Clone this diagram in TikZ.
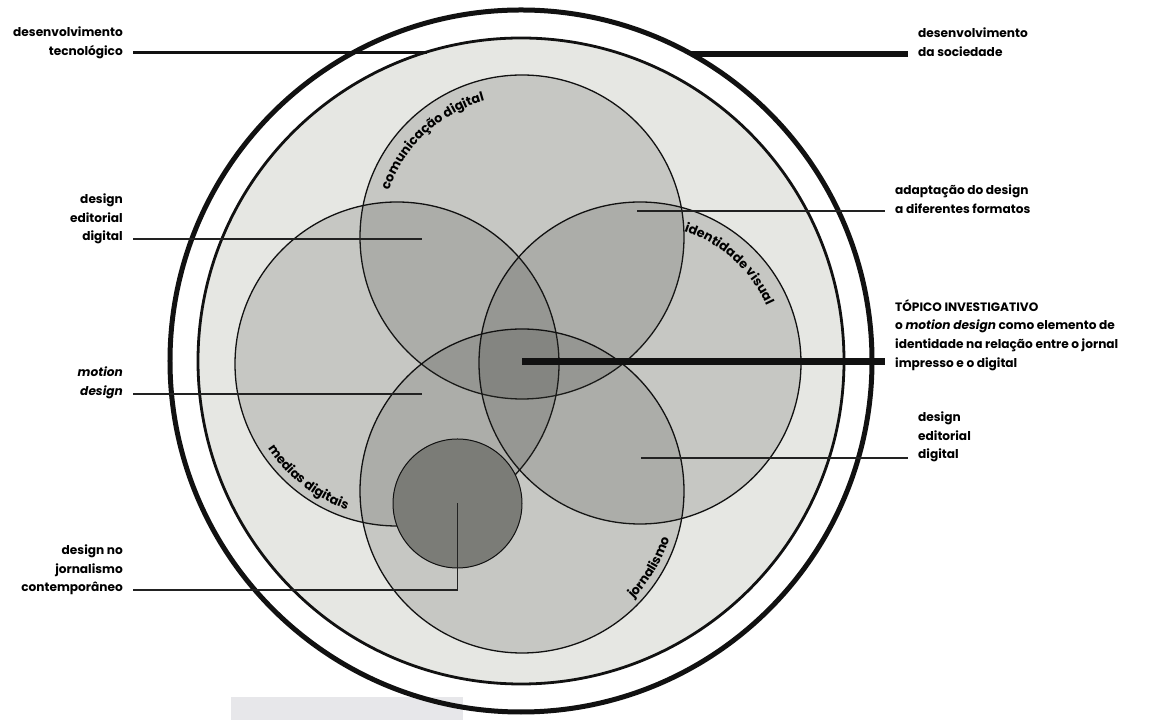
\documentclass[tikz,border=0pt]{standalone}
\usepackage{fontspec}
\setmainfont{Poppins}
\usetikzlibrary{calc,decorations.text}
\definecolor{Ink}{HTML}{111111}
\definecolor{Wire}{HTML}{222222}
\definecolor{Paper}{HTML}{E6E7E3}
\definecolor{Shade}{HTML}{2E2F2A}
\definecolor{Core}{HTML}{7B7C77}
\definecolor{Smear}{HTML}{E7E7EA}
\newcommand{\lblfont}{\fontsize{12.2}{18.8}\selectfont\bfseries}
\tikzset{
  ring/.style={circle,draw=Ink,outer sep=0pt,inner sep=0pt,minimum size=#1},
  area/.style={circle,draw=Ink,line width=1.3bp,fill=Shade,fill opacity=.17,outer sep=0pt,inner sep=0pt,minimum size=#1},
  core/.style={circle,draw=Ink,line width=1bp,fill=Core,outer sep=0pt,inner sep=0pt,minimum size=#1},
  lbl/.style={font=\lblfont,inner sep=0pt},
  lblL/.style={lbl,align=right,anchor=east},
  lblR/.style={lbl,align=left,anchor=west},
  thinlink/.style={draw=Wire,line width=1.4bp},
  heavylink/.style={draw=Ink,line width=#1},
  arclabel/.style={decorate,decoration={text along path,text align=center,text={|\fontsize{12.8}{14}\selectfont\bfseries|#1}}}
}

\begin{document}
\begin{tikzpicture}[x=1bp,y=1bp]
  \useasboundingbox (0,0) rectangle (1164,720);
  \fill[Smear] (231,0) rectangle (463,23);

  % rings
  \node[ring=702bp,line width=5bp] (world) at (521,359) {};
  \node[ring=646bp,line width=2.8bp,fill=Paper] (field) at (521,359) {};

  % overlapping areas
  \node[area=324bp] (comunic) at (522,483) {};
  \node[area=324bp] (medias) at (397,356) {};
  \node[area=322bp] (ident) at (640,357) {};
  \node[area=324bp] (jorn) at (522,229) {};
  \node[core=129bp] (contemp) at (457.5,216.5) {};

  \path[arclabel={comunicação digital}] ($(comunic.center)+(173:141)$) arc[start angle=173,end angle=93,radius=141];
  \path[arclabel={identidade visual}] ($(ident.center)+(88:139)$) arc[start angle=88,end angle=8,radius=139];
  \path[arclabel={medias digitais}] ($(medias.center)+(192:154)$) arc[start angle=192,end angle=272,radius=154];
  \path[arclabel={jornalismo}] ($(jorn.center)+(-71:155)$) arc[start angle=-71,end angle=9,radius=155];

  % labels
  \node[lblL] (ltec) at (123,677) {desenvolvimento\\tecnológico};
  \node[lblL] (ledit) at (123,501) {design\\editorial\\digital};
  \node[lblL,font=\lblfont\itshape] (lmotion) at (123,337) {motion\\design};
  \node[lblL] (lcont) at (123,150) {design no\\jornalismo\\contemporâneo};
  \node[lblR] (rsoc) at (918,678) {desenvolvimento\\da sociedade};
  \node[lblR] (radapt) at (895,521) {adaptação do design\\a diferentes formatos};
  \node[lblR] (rtopic) at (895,385) {TÓPICO INVESTIGATIVO\\o \textit{motion design} como elemento de\\identidade na relação entre o jornal\\impresso e o digital};
  \node[lblR] (redit) at (918,283) {design\\editorial\\digital};

  \coordinate (editpt) at (422,481);
  \coordinate (motionpt) at (422,326);
  \coordinate (adaptpt) at (637,509);
  \coordinate (topicpt) at (522,358);
  \coordinate (reditpt) at (641,262);

  % connectors
  \draw[heavylink=3bp] ($(ltec.east|-field.107.5)+(10,0)$) -- (field.107.5);
  \draw[heavylink=6bp] (world.61.4) -- ($(rsoc.west|-world.61.4)+(-10,0)$);
  \draw[thinlink] ($(ledit.east|-editpt)+(10,0)$) -- (editpt);
  \draw[thinlink] ($(lmotion.east|-motionpt)+(10,0)$) -- (motionpt);
  \draw[thinlink] ($(lcont.east)+(10,-20)$) -| (contemp.center);
  \draw[thinlink] (adaptpt) -- ($(radapt.west|-adaptpt)+(-10,0)$);
  \draw[heavylink=7bp] (topicpt) -- ($(rtopic.west|-topicpt)+(-10,0)$);
  \draw[thinlink] (reditpt) -- ($(redit.west|-reditpt)+(-10,0)$);
\end{tikzpicture}
\end{document}
